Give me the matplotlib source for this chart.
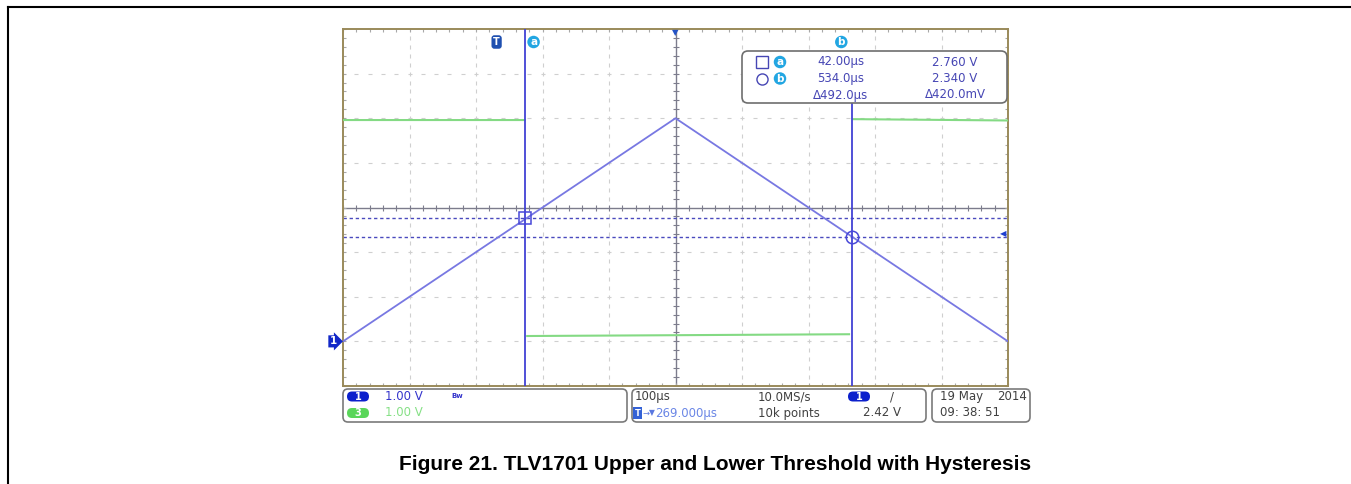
import numpy as np
import matplotlib
matplotlib.use("Agg")
import matplotlib.pyplot as plt
from matplotlib.patches import FancyBboxPatch
from matplotlib.ticker import FixedLocator

# ---------------- data ----------------
ramp_t = [-231, 269, 769]            # µs, channel 1 triangle
ramp_v = [0.0, 5.0, 0.0]             # V
out_t = [-231, 42, np.nan, 46, 530, np.nan, 536, 769]   # µs, channel 3 output
out_v = [4.96, 4.96, np.nan, 0.12, 0.16, np.nan, 4.98, 4.95]
cursor_t = [42.0, 534.0]             # µs
cursor_v = [2.760, 2.340]            # V
cursor_names = ["a", "b"]
trig_level = 2.42                    # V
h_position = 269.0                   # µs (screen centre)
t_range = [-231, 769]
v_range = [-1, 7]
readout_time = ["42.00µs", "534.0µs", "Δ492.0µs"]
readout_volt = ["2.760 V", "2.340 V", "Δ420.0mV"]
ch_scales = ["1.00 V", "1.00 V"]
timebase = "100µs"
trig_pos_label = "269.000µs"
sample_rate = "10.0MS/s"
record_len = "10k points"
trig_level_label = "2.42 V"
date_label = ["19 May", "2014"]
time_label = "09: 38: 51"
caption = "Figure 21. TLV1701 Upper and Lower Threshold with Hysteresis"

W, H = 1351, 484
fig = plt.figure(figsize=(W / 100, H / 100), dpi=100)

# ---------------- scope screen ----------------
L, R, T, B = 343, 1008, 29, 386
ax = fig.add_axes([L / W, 1 - B / H, (R - L) / W, (B - T) / H])
ax.set_xlim(*t_range)
ax.set_ylim(*v_range)
for s in ax.spines.values():
    s.set_color("#9a8a5a")
    s.set_linewidth(1.4)

xmaj = np.arange(t_range[0], t_range[1] + 1, 100)
ymaj = np.arange(v_range[0], v_range[1] + 1, 1)
xmin = np.arange(t_range[0], t_range[1] + 0.1, 20)
ymin = np.arange(v_range[0], v_range[1] + 0.01, 0.2)
ax.xaxis.set_major_locator(FixedLocator(xmaj))
ax.xaxis.set_minor_locator(FixedLocator(xmin))
ax.yaxis.set_major_locator(FixedLocator(ymaj))
ax.yaxis.set_minor_locator(FixedLocator(ymin))
ax.tick_params(which="both", direction="in", length=2.5, width=0.8,
               color="#a8a8a8", top=True, right=True,
               labelbottom=False, labelleft=False)

grid_c = "#cfcfcf"
for x in xmaj[1:-1]:
    if x == h_position:
        continue
    ax.plot(np.full_like(ymin, x), ymin, ls="none", marker="|", ms=2.2,
            mew=0.8, color=grid_c, zorder=1)
for y in ymaj[1:-1]:
    if y == 3:
        continue
    ax.plot(xmin, np.full_like(xmin, y, dtype=float), ls="none", marker="_",
            ms=2.6, mew=0.8, color=grid_c, zorder=1)

# centre cross with ticks
cc = "#7c7c8c"
ax.axhline(3, color=cc, lw=1.0, zorder=1.5)
ax.axvline(h_position, color=cc, lw=1.0, zorder=1.5)
ax.plot(xmin, np.full_like(xmin, 3.0, dtype=float), ls="none", marker="|",
        ms=4.5, mew=0.8, color=cc, zorder=1.5)
ax.plot(np.full_like(ymin, h_position), ymin, ls="none", marker="_",
        ms=4.5, mew=0.8, color=cc, zorder=1.5)

# cursor horizontal (dashed) lines
for v in cursor_v:
    ax.axhline(v, color="#4a4abe", lw=1.0, ls=(0, (2.4, 2.0)), zorder=2)

# waveforms
ax.plot(out_t, out_v, color="#84da84", lw=1.5, zorder=3)
ax.plot(ramp_t, ramp_v, color="#7878e2", lw=1.3, zorder=3.5)

# cursor vertical lines (b starts below the readout box)
box_bottom_px = 103
ax.axvline(cursor_t[0], color="#4242d4", lw=1.3, zorder=4)
ax.axvline(cursor_t[1], ymax=(B - box_bottom_px) / (B - T),
           color="#4242d4", lw=1.3, zorder=4)
ax.plot(cursor_t[0], cursor_v[0], marker="s", ms=9, mfc="none",
        mec="#4848d8", mew=1.1, zorder=5)
ax.plot(cursor_t[1], cursor_v[1], marker="o", ms=9, mfc="none",
        mec="#4848d8", mew=1.1, zorder=5)

# ---------------- overlay in pixel coordinates ----------------
ov = fig.add_axes([0, 0, 1, 1])
ov.set_xlim(0, W)
ov.set_ylim(H, 0)
ov.axis("off")
ov.patch.set_alpha(0)

# page frame
ov.plot([8, W], [7, 7], color="black", lw=1.5)
ov.plot([8, 8], [7, H], color="black", lw=1.5)

xd_yp = (ax.transData, ov.transData)   # x from scope data, y pixels
xp_yd = (ov.transData, ax.transData)   # x pixels, y from scope data

# trigger time marker (T) at t = 0
ov.annotate("T", xy=(0, 42), xycoords=xd_yp, ha="center", va="center",
            fontsize=7, color="white", weight="bold",
            bbox=dict(boxstyle="round,pad=0.18,rounding_size=0.3",
                      fc="#1e4fb0", ec="none"))
# cursor name badges
cyan = "#22a6e2"
for t, name, dx in zip(cursor_t, cursor_names, [6.5, -7.5]):
    ov.annotate(name, xy=(t, 42), xycoords=xd_yp, xytext=(dx, 0),
                textcoords="offset points", ha="center", va="center",
                fontsize=7.5, color="white", weight="bold",
                bbox=dict(boxstyle="circle,pad=0.12", fc=cyan, ec="none"))
# horizontal position marker at top
ov.annotate("▼", xy=(h_position, 32.5), xycoords=xd_yp, ha="center",
            va="center", fontsize=6, color="#2453c6")
# channel 1 ground marker
ov.annotate("1", xy=(333, 0.0), xycoords=xp_yd, ha="center", va="center",
            fontsize=7.5, color="white", weight="bold",
            bbox=dict(boxstyle="rarrow,pad=0.1", fc="#1228c8", ec="none"))
# trigger level arrow
ov.annotate("◀", xy=(1003, trig_level), xycoords=xp_yd, ha="center",
            va="center", fontsize=6, color="#2040d0")

# readout box
ov.add_patch(FancyBboxPatch((742, 51), 265, box_bottom_px - 51,
                            boxstyle="round,pad=0,rounding_size=6",
                            fc="white", ec="#6e6e6e", lw=1.2, zorder=5))
txt_c = "#4646b4"
rows_y = [62, 78.5, 95]
ov.plot([762], [rows_y[0]], marker="s", ms=8, mfc="none", mec=txt_c,
        mew=1.0, zorder=6)
ov.plot([762], [rows_y[1]], marker="o", ms=8, mfc="none", mec=txt_c,
        mew=1.0, zorder=6)
for y, name in zip(rows_y[:2], cursor_names):
    ov.text(780, y, name, ha="center", va="center", fontsize=7.5,
            color="white", weight="bold", zorder=7,
            bbox=dict(boxstyle="circle,pad=0.12", fc=cyan, ec="none"))
for y, tt, vv in zip(rows_y, readout_time, readout_volt):
    ov.text(841, y, tt, ha="center", va="center", fontsize=8.5,
            color=txt_c, zorder=6)
    ov.text(955, y, vv, ha="center", va="center", fontsize=8.5,
            color=txt_c, zorder=6)

# bottom status boxes
for x0, x1 in [(343, 627), (632, 926), (932, 1030)]:
    ov.add_patch(FancyBboxPatch((x0, 389), x1 - x0, 33,
                                boxstyle="round,pad=0,rounding_size=5",
                                fc="white", ec="#7a7a7a", lw=1.2))
r1, r2 = 396.5, 413

def pill(xc, yc, label, color):
    ov.add_patch(FancyBboxPatch((xc - 11, yc - 5), 22, 10,
                                boxstyle="round,pad=0,rounding_size=5",
                                fc=color, ec="none", zorder=3))
    ov.text(xc, yc, label, ha="center", va="center", fontsize=7,
            color="white", weight="bold", zorder=4)

pill(358, r1, "1", "#0c20cc")
pill(358, r2, "3", "#5ad65a")
ov.text(385, r1, ch_scales[0], ha="left", va="center", fontsize=8.5,
        color="#3434cc")
ov.text(385, r2, ch_scales[1], ha="left", va="center", fontsize=8.5,
        color="#86e086")
ov.text(457, r1, "Bw", ha="center", va="center", fontsize=5,
        color="#3434cc", weight="bold")

ov.text(635, r1, timebase, ha="left", va="center", fontsize=8.5,
        color="#404040")
ov.text(637.5, r2, "T", ha="center", va="center", fontsize=6,
        color="white", weight="bold",
        bbox=dict(boxstyle="square,pad=0.15", fc="#3462d6", ec="none"))
ov.text(642.5, r2, "→", ha="left", va="center", fontsize=6, color="#5a78e0")
ov.text(648.5, r2, "▼", ha="left", va="center", fontsize=5.5, color="#5a78e0")
ov.text(655, r2, trig_pos_label, ha="left", va="center", fontsize=8.5,
        color="#6a86e6")
ov.text(758, r1, sample_rate, ha="left", va="center", fontsize=8.5,
        color="#404040")
ov.text(758, r2, record_len, ha="left", va="center", fontsize=8.5,
        color="#404040")
pill(859, r1, "1", "#0c20cc")
ov.text(892, r1, "/", ha="center", va="center", fontsize=8.5,
        color="#404040")
ov.text(901, r2, trig_level_label, ha="right", va="center", fontsize=8.5,
        color="#404040")
ov.text(940, r1, date_label[0], ha="left", va="center", fontsize=8.5,
        color="#404040")
ov.text(1027, r1, date_label[1], ha="right", va="center", fontsize=8.5,
        color="#404040")
ov.text(940, r2, time_label, ha="left", va="center", fontsize=8.5,
        color="#404040")

# caption
ov.text(715, 464, caption, ha="center", va="center", fontsize=15,
        weight="bold", family="Liberation Sans", color="black")

fig.savefig("out.png", dpi=100)
